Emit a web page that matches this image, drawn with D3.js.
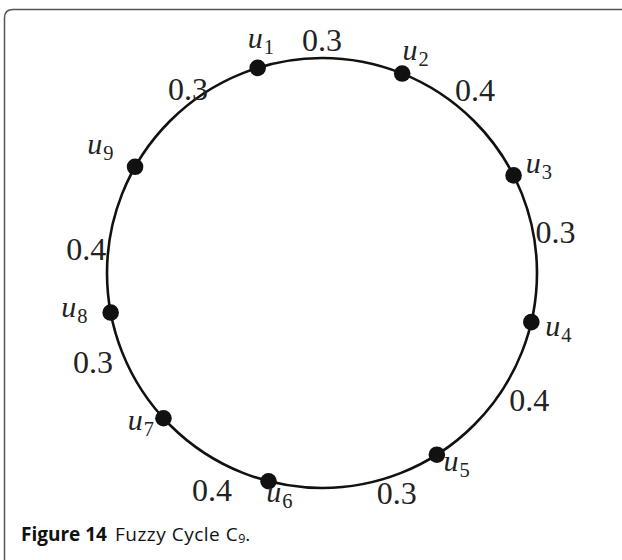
<!DOCTYPE html>
<html>
<head>
<meta charset="utf-8">
<script src="https://cdn.jsdelivr.net/npm/d3@7"></script>
<style>
  html, body { margin: 0; padding: 0; background: #fff; }
  svg { display: block; }
</style>
</head>
<body>
<svg id="chart" width="622" height="560"></svg>
<script>
// ---- data ----
const nodes = ["1","2","3","4","5","6","7","8","9"];               // vertex subscripts u1..u9
const nodeAngles = [342.6, 21.9, 63, 103.2, 147.7, 194.4, 227.5, 259.4, 299.6]; // degrees clockwise from top
const edgeWeights = ["0.3","0.4","0.3","0.4","0.3","0.4","0.3","0.4","0.3"]; // u1u2, u2u3, ..., u9u1
const captionBold = "Figure 14";
const captionText = "Fuzzy Cycle C";
const captionSub = "9";

// ---- layout ----
const W = 622, H = 560;
const cx = 322, cy = 273, R = 215;
const nodeLabelAngle = [345.0, 23.4, 64.6, 104.3, 145.4, 190.7, 229.6, 260.6, 298.8];
const nodeLabelRadius = [236, 236, 240, 244, 237, 230, 238, 251, 253];
const edgeLabelAngle = [0, 39.9, 80, 121.5, 161.2, 206.9, 248.8, 275.8, 324];
const edgeLabelRadius = [233, 238.5, 237, 243, 232, 243, 245.7, 237, 228];

const svg = d3.select("#chart");
const ang = d3.scaleLinear().domain([0, 360]).range([0, 2 * Math.PI]);
const rad = d3.scaleLinear().domain([0, 1]).range([0, 1]);
const px = (a, r) => cx + rad(r) * Math.sin(ang(a));
const py = (a, r) => cy - rad(r) * Math.cos(ang(a));

// frame
svg.append("path")
  .attr("d", `M4.5,${H + 5} L4.5,18 Q4.5,9.5 13,9.5 L${W + 5},9.5`)
  .attr("fill", "none").attr("stroke", "#555").attr("stroke-width", 1.5);

// cycle
svg.append("circle")
  .attr("cx", cx).attr("cy", cy).attr("r", rad(R))
  .attr("fill", "none").attr("stroke", "#111").attr("stroke-width", 2.6);

// vertices
svg.selectAll("circle.node").data(nodeAngles).join("circle")
  .attr("class", "node")
  .attr("cx", d => px(d, R)).attr("cy", d => py(d, R))
  .attr("r", 8.3).attr("fill", "#111");

const serif = "'Liberation Serif', 'DejaVu Serif', serif";

// vertex labels
const vl = svg.selectAll("text.vl").data(nodes).join("text")
  .attr("class", "vl")
  .attr("x", (d, i) => px(nodeLabelAngle[i], nodeLabelRadius[i]))
  .attr("y", (d, i) => py(nodeLabelAngle[i], nodeLabelRadius[i]))
  .attr("dy", "0.2em")
  .attr("text-anchor", "middle")
  .attr("font-family", serif)
  .attr("fill", "#222");
vl.append("tspan").attr("font-style", "italic").attr("font-size", 30).text("u");
vl.append("tspan").attr("font-size", 20.5).attr("dx", 1).attr("dy", 6).text(d => d);

// edge weight labels
svg.selectAll("text.el").data(edgeWeights).join("text")
  .attr("class", "el")
  .attr("x", (d, i) => px(edgeLabelAngle[i], edgeLabelRadius[i]))
  .attr("y", (d, i) => py(edgeLabelAngle[i], edgeLabelRadius[i]))
  .attr("dy", "0.35em")
  .attr("text-anchor", "middle")
  .attr("font-family", serif)
  .attr("font-size", 32)
  .attr("fill", "#222")
  .text(d => d);

// caption
const cap = svg.append("text")
  .attr("x", 21).attr("y", 541)
  .attr("font-family", "'Open Sans', 'Noto Sans', sans-serif")
  .attr("font-size", 19).attr("fill", "#111");
cap.append("tspan").attr("font-weight", "bold").text(captionBold);
cap.append("tspan").attr("dx", 8).attr("letter-spacing", 0.5).text(captionText);
cap.append("tspan").attr("font-size", 12.5).attr("dy", 2).text(captionSub);
cap.append("tspan").attr("dy", -2).text(".");
</script>
</body>
</html>
